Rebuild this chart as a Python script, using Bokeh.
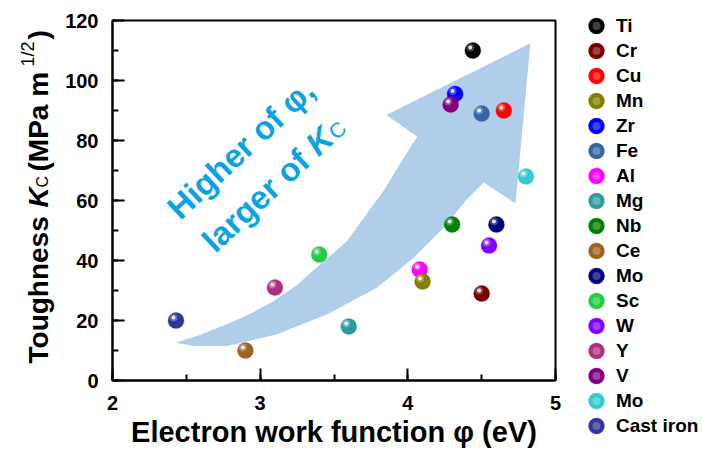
import math
from bokeh.plotting import figure
from bokeh.models import (Range1d, SingleIntervalTicker, Label, ColumnDataSource,
                          Legend, LegendItem)
from bokeh.layouts import row
from bokeh.embed import file_html
from bokeh.resources import INLINE
from bokeh.core.properties import value

# ---------------- data ----------------
materials = ["Ti", "Cr", "Cu", "Mn", "Zr", "Fe", "Al", "Mg", "Nb", "Ce",
             "Mo", "Sc", "W", "Y", "V", "Mo", "Cast iron"]
work_function = [4.44, 4.50, 4.65, 4.10, 4.32, 4.50, 4.08, 3.60, 4.30, 2.90,
                 4.60, 3.40, 4.55, 3.10, 4.29, 4.80, 2.43]
toughness = [110, 29, 90, 33, 95.5, 89, 37, 18, 52, 10,
             52, 42, 45, 31, 92, 68, 20]
colors = ["#000000", "#7a0000", "#ff0000", "#808000", "#0000ff", "#3366a3",
          "#ff00ff", "#2e9c9c", "#008000", "#9c6322", "#000080", "#22cc44",
          "#8000ff", "#b03080", "#800080", "#33cccc", "#333399"]
draw_order = [0, 1, 2, 6, 3, 4, 5, 7, 8, 9, 10, 11, 12, 13, 14, 15, 16]

x_tick_interval = 1
y_tick_interval = 20
x_label = "Electron work function φ (eV)"

# decorative trend arrow outline (data units)
arrow_x = [2.428, 2.60, 2.778, 2.94, 3.093, 3.25, 3.409, 3.590, 3.770, 3.838,
           3.951, 4.064, 3.854, 4.830, 4.729, 4.514, 4.39, 4.244, 4.041,
           3.793, 3.455, 3.116, 2.778, 2.552]
arrow_y = [12.6, 15.3, 18.8, 22.4, 26.5, 31.8, 38.8, 46.6, 58.8, 63.3,
           72.6, 81.3, 88.5, 112.4, 59.0, 66.0, 59.8, 51.0, 41.0,
           31.0, 22.1, 15.4, 11.5, 11.5]

FONT = "Liberation Sans"
BLACK = "#000000"
CYAN_TEXT = "#0ba3e0"
ARROW_FILL = "#b0cde9"

# ---------------- geometry (page pixels) ----------------
FL, FT, FR, FB = 112, 20, 555, 380
TOTAL_W, TOTAL_H = 700, 455
YLAB_W = 62
X0, X1, Y0, Y1 = 2, 5, 0, 120


def dxp(px):
    return X0 + (px - FL) * (X1 - X0) / (FR - FL)


def dyp(py):
    return Y0 + (FB - py) * (Y1 - Y0) / (FB - FT)


BOLD_W = {' ': 278, '(': 333, ')': 333, '/': 278, '1': 556, '2': 556, 'C': 722,
          'K': 722, 'M': 833, 'P': 667, 'T': 611, 'a': 556, 'e': 556, 'g': 611,
          'h': 611, 'm': 889, 'n': 611, 'o': 611, 's': 556, 'u': 611, 'E': 667,
          'l': 278, 'c': 556, 't': 333, 'r': 389, 'w': 778, 'k': 556, 'f': 333,
          'i': 278, 'V': 667, 'H': 722, ',': 278, 'φ': 640}


def tw(s, size, table=BOLD_W):
    return sum(table.get(ch, 600) for ch in s) * size / 1000.0


# ---------------- main figure ----------------
p = figure(x_range=Range1d(X0, X1), y_range=Range1d(Y0, Y1),
           frame_width=FR - FL, frame_height=FB - FT,
           min_border_left=FL - YLAB_W, min_border_top=FT,
           min_border_right=TOTAL_W - FR, min_border_bottom=TOTAL_H - FB,
           output_backend="svg", toolbar_location=None,
           background_fill_color="white", border_fill_color="white")
p.xgrid.visible = False
p.ygrid.visible = False
p.outline_line_color = BLACK
p.outline_line_width = 2

p.xaxis.ticker = SingleIntervalTicker(interval=x_tick_interval, num_minor_ticks=2)
p.yaxis.ticker = SingleIntervalTicker(interval=y_tick_interval, num_minor_ticks=2)
for ax in (p.xaxis[0], p.yaxis[0]):
    ax.axis_line_width = 2
    ax.axis_line_color = BLACK
    ax.major_tick_in = 12
    ax.major_tick_out = 0
    ax.minor_tick_in = 6
    ax.minor_tick_out = 0
    ax.major_tick_line_width = 2
    ax.minor_tick_line_width = 2
    ax.major_tick_line_color = BLACK
    ax.minor_tick_line_color = BLACK
    ax.major_label_text_font = FONT
    ax.major_label_text_font_size = "20px"
    ax.major_label_text_font_style = "bold"
    ax.major_label_text_color = BLACK
p.xaxis[0].major_label_standoff = 15
p.yaxis[0].major_label_standoff = 14
p.xaxis[0].axis_label = x_label
p.xaxis[0].axis_label_text_font = FONT
p.xaxis[0].axis_label_text_font_size = "29px"
p.xaxis[0].axis_label_text_font_style = "bold"
p.xaxis[0].axis_label_text_color = BLACK
p.xaxis[0].axis_label_standoff = 3

# arrow
p.patch(arrow_x, arrow_y, fill_color=ARROW_FILL, line_color=None)

# balls
xs = [work_function[i] for i in draw_order]
ys = [toughness[i] for i in draw_order]
cs = [colors[i] for i in draw_order]
src = ColumnDataSource(dict(x=xs, y=ys, c=cs,
                            hx=[x - 2.5 * (X1 - X0) / (FR - FL) for x in xs],
                            hy=[y + 3.0 * (Y1 - Y0) / (FB - FT) for y in ys]))
balls = p.ellipse("x", "y", source=src, width=16, height=16,
                  width_units="screen", height_units="screen",
                  fill_color="c", line_color="c", line_alpha=0.6, line_width=0.5)
glow = p.scatter("hx", "hy", source=src, size=8, fill_color="white",
                 fill_alpha=0.25, line_color=None)
p.scatter("hx", "hy", source=src, size=4, fill_color="white", fill_alpha=0.85,
          line_color=None)


def add_label(fig, px, py, text, size, style="bold", angle=0.0, align="left",
              color=BLACK):
    fig.add_layout(Label(x=dxp(px), y=dyp(py), text=text, angle=angle,
                         text_font=FONT, text_font_size=f"{size}px",
                         text_font_style=style, text_align=align,
                         text_baseline="alphabetic", text_color=color))


# arrow annotation text (inside the frame)
AS = 33
ang = math.radians(43)
ca, sa = math.cos(ang), math.sin(ang)
l1 = (172, 212)
add_label(p, l1[0], l1[1], "Higher of φ,", AS, angle=ang, color=CYAN_TEXT)
l2 = (207, 245)
add_label(p, l2[0], l2[1], "larger of", AS, angle=ang, color=CYAN_TEXT)
s = tw("larger of ", AS)
kx, ky = l2[0] + s * ca, l2[1] - s * sa
add_label(p, kx, ky, "K", AS, style="bold italic", angle=ang, color=CYAN_TEXT)
s2 = tw("K", AS) + 1
cx, cy = kx + s2 * ca + 4 * sa, ky - s2 * sa + 4 * ca
add_label(p, cx, cy, "C", 21, style="normal", angle=ang, color=CYAN_TEXT)

# legend (right side panel)
items = [LegendItem(label=materials[i], renderers=[balls, glow],
                    index=draw_order.index(i)) for i in range(len(materials))]
legend = Legend(items=items, location=(31, -58), orientation="vertical",
                glyph_width=20, glyph_height=25, spacing=0, label_height=20,
                label_standoff=10, padding=0, margin=0,
                border_line_color=None, background_fill_alpha=0,
                label_text_font=FONT, label_text_font_size="19px",
                label_text_font_style="bold", label_text_color=BLACK)
p.add_layout(legend, "right")

# ---------------- y label figure (frame aligned with main frame) ----------------
ylab = figure(x_range=Range1d(0, YLAB_W), y_range=Range1d(FB, FT),
              width=YLAB_W, height=TOTAL_H, min_border=0,
              output_backend="svg", toolbar_location=None)
ylab.axis.visible = False
ylab.xgrid.visible = False
ylab.ygrid.visible = False
ylab.outline_line_color = None

YS = 28
bx = 38
pieces = [
    ("Toughness", bx, 363, f"{YS}px", "bold"),
    ("K", bx, 207, f"{YS}px", "bold italic"),
    ("C", bx + 4, 187, "16px", "normal"),
    ("(MPa m", bx, 171, f"{YS}px", "bold"),
    ("1/2", bx - 11, 66, "18px", "normal"),
    (")", bx, 39, f"{YS}px", "bold"),
]
ysrc = ColumnDataSource(dict(t=[q[0] for q in pieces], x=[q[1] for q in pieces],
                             y=[q[2] for q in pieces], fs=[q[3] for q in pieces],
                             st=[q[4] for q in pieces]))
ylab.text("x", "y", text="t", source=ysrc, angle=math.pi / 2,
          text_font=value(FONT), text_font_size="fs", text_font_style="st",
          text_align="left", text_baseline="alphabetic", text_color=BLACK)

layout = row(ylab, p)
open("out.html", "w").write(file_html(layout, INLINE))
